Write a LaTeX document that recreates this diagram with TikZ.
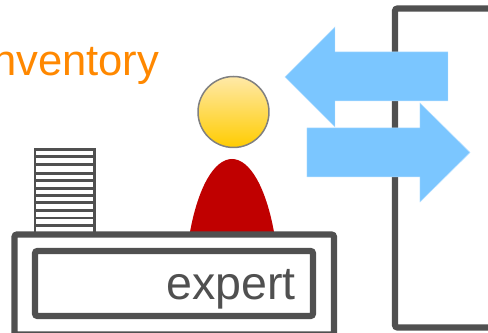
\documentclass[tikz,border=0pt]{standalone}
\usepackage{fontspec}
\setmainfont{Liberation Sans}
\definecolor{frameGray}{HTML}{505050}
\definecolor{arrowBlue}{HTML}{7BC6FF}
\definecolor{arrowEdge}{HTML}{B5DFFF}
\definecolor{labelOrange}{HTML}{FF8800}
\definecolor{bodyRed}{HTML}{C00000}
\definecolor{headTop}{HTML}{FFE9A8}
\definecolor{headBottom}{HTML}{FFCC00}
\tikzset{
  frame/.style={draw=frameGray, line width=0.125cm, rounded corners=0.05cm},
  sheet/.style={draw=frameGray, line width=0.05cm, fill=white},
  flow/.style={fill=arrowBlue, draw=arrowEdge, line width=0.01cm},
}
\begin{document}
\begin{tikzpicture}[x=0.02cm,y=-0.02cm]
    \useasboundingbox (0,0) rectangle (488,333);
    \clip (0,0) rectangle (488,333);
    \draw[frame] (500,8.5) -- (395,8.5) -- (395,327.5) -- (500,327.5);
    \foreach \y/\h in {149.3/7.4,156.7/8,164.7/8.6,173.3/7.4,180.7/8,188.7/6.6,195.3/7.4,202.7/8,210.7/7.3,218/7.3,225.3/8} {
      \draw[sheet] (35,\y) rectangle (94.5,\y+\h);
    }
    \fill[bodyRed] (190,232) .. controls (198,188) and (214,159) .. (232,159) .. controls (250,159) and (266,188) .. (274,232) -- cycle;
    \node[circle, draw=gray, line width=0.03cm, minimum size=1.42cm, inner sep=0pt, top color=headTop, bottom color=headBottom] (head) at (233.5,112) {};
    \draw[frame, fill=white] (14.5,234.5) rectangle (334,334.5);
    \draw[frame] (35,251) rectangle (313,316);
    \node[anchor=base east, inner sep=0pt, text=frameGray, font=\fontsize{26.5}{30}\selectfont] (expert) at (296,300) {expert};
    \node[anchor=base east, inner sep=0pt, text=labelOrange, font=\fontsize{24.8}{28}\selectfont] (inventory) at (159.5,76) {inventory};
    \draw[flow] (285,77) -- (335,27) -- (335,52) -- (448,52) -- (448,101) -- (335,101) -- (335,127) -- cycle;
    \draw[flow] (470,152.5) -- (420,103) -- (420,128) -- (307,128) -- (307,177) -- (420,177) -- (420,202) -- cycle;
\end{tikzpicture}
\end{document}
